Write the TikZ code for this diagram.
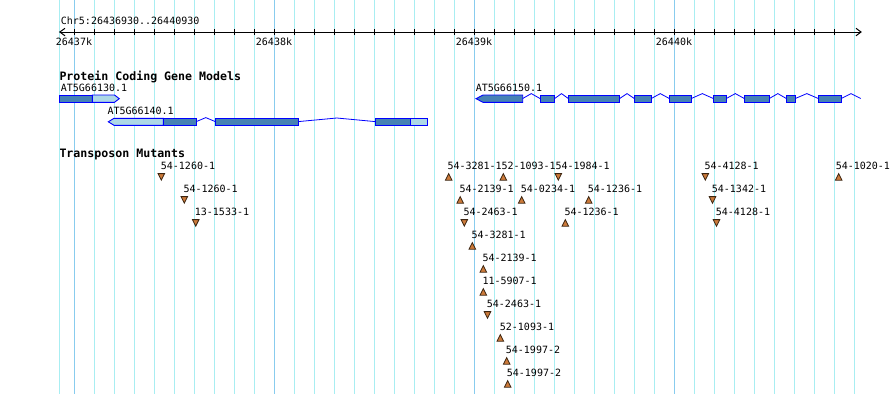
\documentclass[tikz,border=0pt]{standalone}
\usepackage{fontspec}
\newfontfamily\pixfont{DejaVu Sans Mono}
\definecolor{gridminor}{HTML}{A8EEF2}
\definecolor{gridmajor}{HTML}{88CCEE}
\definecolor{exdark}{HTML}{4682B4}
\definecolor{exlight}{HTML}{ADD8E6}
\definecolor{exline}{HTML}{0000FF}
\definecolor{tfill}{HTML}{CC7A3A}
\definecolor{tline}{HTML}{3A2410}
\begin{document}
\begin{tikzpicture}[x=1pt,y=-1pt,
  lbl/.style={font=\pixfont\fontsize{10}{10}\selectfont, inner sep=0pt, anchor=base west},
  head/.style={font=\pixfont\bfseries\fontsize{11.6}{12}\selectfont, inner sep=0pt, anchor=base west},
  tick/.style={draw=black, line width=1pt},
  exd/.style={fill=exdark, draw=exline, line width=0.9pt, line join=miter},
  exl/.style={fill=exlight, draw=exline, line width=0.9pt, line join=miter},
  intron/.style={draw=exline, line width=0.8pt},
  tri/.style={fill=tfill, draw=tline, line width=0.8pt, line join=miter},
  tup/.pic={\path[tri] (-3.3,6.6) -- (0,0) -- (3.3,6.6) -- cycle;},
  tdn/.pic={\path[tri] (-3.3,0) -- (3.3,0) -- (0,6.6) -- cycle;}]
\useasboundingbox (0,0) rectangle (890,394);
\fill[white] (0,0) rectangle (890,394);
% grid
\draw[gridminor, line width=1pt] (59.3,0) -- (59.3,394);
\foreach \i in {0,...,39} {
  \pgfmathsetmacro\xx{74+20*\i}
  \draw[gridminor, line width=1pt] (\xx,0) -- (\xx,394);
}
\foreach \xx in {74,274,474,674} {
  \draw[gridmajor, line width=1pt] (\xx,0) -- (\xx,394);
}
% axis
\node[lbl] (title) at (60.7,24.3) {Chr5:26436930..26440930};
\draw[tick] (59.5,32) -- (860.5,32);
\draw[tick] (65,28.3) -- (59.8,32) -- (65,35.8);
\draw[tick] (856,28.3) -- (861,32) -- (856,35.8);
\foreach \i in {0,...,38} {
  \pgfmathsetmacro\xx{74+20*\i}
  \draw[tick] (\xx,29.3) -- (\xx,35.3);
}
\node[lbl, anchor=base] (k37) at (74,45.5) {26437k};
\node[lbl, anchor=base] (k38) at (274,45.5) {26438k};
\node[lbl, anchor=base] (k39) at (474,45.5) {26439k};
\node[lbl, anchor=base] (k40) at (674,45.5) {26440k};
% gene models
\node[head] (pcgm) at (59.3,80) {Protein Coding Gene Models};
\node[lbl] (g130) at (60.7,91.7) {AT5G66130.1};
\node[lbl] (g140) at (107.3,114) {AT5G66140.1};
\node[lbl] (g150) at (475.7,91.7) {AT5G66150.1};
% AT5G66130.1
\path[exd] (59,95) rectangle (92.3,102.3);
\path[exl] (92.3,95) -- (114.5,95) -- (119.3,98.7) -- (114.5,102.3) -- (92.3,102.3) -- cycle;
% AT5G66140.1
\path[exl] (163.3,118.3) -- (114,118.3) -- (108.3,121.8) -- (114,125.3) -- (163.3,125.3) -- cycle;
\path[exd] (163.3,118.3) rectangle (196.3,125.3);
\draw[intron] (196.3,121.6) -- (205.8,117.6) -- (215.3,121.6);
\path[exd] (215.3,118.3) rectangle (298.3,125.3);
\draw[intron] (298.3,121.6) -- (336.8,118.0) -- (375.3,121.6);
\path[exd] (375.3,118.3) rectangle (410.7,125.3);
\path[exl] (410.7,118.3) rectangle (427.3,125.3);
% AT5G66150.1
\path[exd] (522.7,95) -- (483,95) -- (476,98.7) -- (483,102.3) -- (522.7,102.3) -- cycle;
\path[exd] (540,95) rectangle (554.7,102.3);
\path[exd] (568.3,95) rectangle (619.7,102.3);
\path[exd] (634.3,95) rectangle (651.3,102.3);
\path[exd] (669.3,95) rectangle (691.3,102.3);
\path[exd] (713.3,95) rectangle (726.3,102.3);
\path[exd] (744.3,95) rectangle (769.3,102.3);
\path[exd] (786.3,95) rectangle (795.3,102.3);
\path[exd] (818.3,95) rectangle (841.3,102.3);
\draw[intron] (522.7,98.5) -- (531.3,93.6) -- (540,98.5);
\draw[intron] (554.7,98.5) -- (561.5,93.6) -- (568.3,98.5);
\draw[intron] (619.7,98.5) -- (627,93.6) -- (634.3,98.5);
\draw[intron] (651.3,98.5) -- (660.3,93.6) -- (669.3,98.5);
\draw[intron] (691.3,98.5) -- (702.3,93.6) -- (713.3,98.5);
\draw[intron] (726.3,98.5) -- (735.3,93.6) -- (744.3,98.5);
\draw[intron] (769.3,98.5) -- (777.8,93.6) -- (786.3,98.5);
\draw[intron] (795.3,98.5) -- (806.8,93.6) -- (818.3,98.5);
\draw[intron] (841.3,98.5) -- (851,93.6) -- (860.7,98.5);
% transposon mutants
\node[head] (tmut) at (59.3,157.3) {Transposon Mutants};
\foreach \nm/\lx/\row/\cx/\dir/\txt in {
  m1/160.7/0/161.3/tdn/54-1260-1,
  m2/183.3/1/184.3/tdn/54-1260-1,
  m3/194.7/2/195.7/tdn/13-1533-1,
  m4/447.3/0/448.7/tup/54-3281-1,
  m5/501.3/0/503.3/tup/52-1093-1,
  m6/555.3/0/558.3/tdn/54-1984-1,
  m7/459.3/1/460.2/tup/54-2139-1,
  m8/520.7/1/521.7/tup/54-0234-1,
  m9/587.7/1/588.7/tup/54-1236-1,
  m10/463.3/2/464.3/tdn/54-2463-1,
  m11/564.3/2/565.3/tup/54-1236-1,
  m12/471.3/3/472.3/tup/54-3281-1,
  m13/482.3/4/483.3/tup/54-2139-1,
  m14/482.3/5/483.3/tup/11-5907-1,
  m15/486.7/6/487.5/tdn/54-2463-1,
  m16/499.7/7/500.3/tup/52-1093-1,
  m17/505.7/8/506.7/tup/54-1997-2,
  m18/506.7/9/507.7/tup/54-1997-2,
  m19/704.3/0/705.3/tdn/54-4128-1,
  m20/835.6/0/838.7/tup/54-1020-1,
  m21/711.7/1/712.5/tdn/54-1342-1,
  m22/715.7/2/716.5/tdn/54-4128-1} {
  \pgfmathsetmacro\by{169.4+23*\row}
  \pgfmathsetmacro\ty{\by+4.2}
  \node[lbl] (\nm) at (\lx,\by) {\txt};
  \pic at (\cx,\ty) {\dir};
}
\end{tikzpicture}
\end{document}
